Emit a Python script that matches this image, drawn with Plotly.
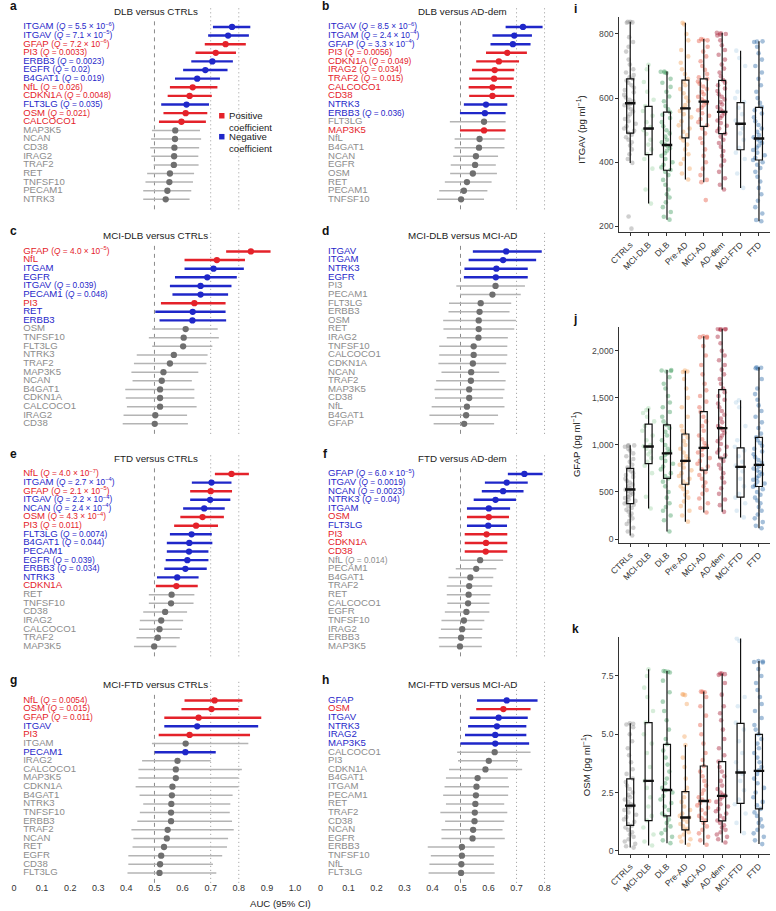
import plotly.graph_objects as go

W, H = 776, 911

# ------------------------------------------------------------------ data
# forest panels: genes, AUC, lower CI, upper CI, Q-value text, sign (r = positive, b = negative, g = n.s.)
a_title = "DLB versus CTRLs"
a_genes = ["ITGAM","ITGAV","GFAP","PI3","ERBB3","EGFR","B4GAT1","NfL","CDKN1A","FLT3LG","OSM","CALCOCO1","MAP3K5","NCAN","CD38","IRAG2","TRAF2","RET","TNFSF10","PECAM1","NTRK3"]
a_auc = [0.776,0.762,0.753,0.718,0.706,0.681,0.652,0.636,0.625,0.614,0.611,0.596,0.574,0.573,0.571,0.570,0.569,0.555,0.553,0.546,0.540]
a_lo = [0.708,0.691,0.679,0.646,0.631,0.602,0.573,0.555,0.547,0.524,0.532,0.516,0.491,0.488,0.485,0.489,0.497,0.474,0.468,0.460,0.460]
a_hi = [0.841,0.836,0.825,0.790,0.779,0.760,0.733,0.724,0.704,0.694,0.688,0.683,0.662,0.666,0.659,0.656,0.657,0.641,0.637,0.631,0.625]
a_q = ["5.5e-6","7.1e-5","7.2e-6","0.0033","0.0023","0.02","0.019","0.026","0.0048","0.035","0.021","","","","","","","","","",""]
a_sign = "bbrrbbbrrbrr" + "g" * 9

b_title = "DLB versus AD-dem"
b_genes = ["ITGAV","ITGAM","GFAP","PI3","CDKN1A","IRAG2","TRAF2","CALCOCO1","CD38","NTRK3","ERBB3","FLT3LG","MAP3K5","NfL","B4GAT1","NCAN","EGFR","OSM","RET","PECAM1","TNFSF10"]
b_auc = [0.723,0.692,0.687,0.667,0.637,0.622,0.620,0.614,0.614,0.591,0.587,0.584,0.584,0.568,0.566,0.555,0.552,0.544,0.523,0.512,0.502]
b_lo = [0.661,0.614,0.607,0.591,0.556,0.541,0.531,0.529,0.531,0.512,0.498,0.462,0.498,0.479,0.479,0.474,0.465,0.463,0.444,0.424,0.416]
b_hi = [0.793,0.755,0.750,0.737,0.709,0.692,0.690,0.683,0.692,0.667,0.661,0.661,0.661,0.657,0.657,0.634,0.626,0.630,0.611,0.596,0.584]
b_q = ["8.5e-6","2.4e-4","3.3e-4","0.0056","0.049","0.034","0.015","","","","0.036","","","","","","","","","",""]
b_sign = "bbbrrrrrrbbgr" + "g" * 8

c_title = "MCI-DLB versus CTRLs"
c_genes = ["GFAP","NfL","ITGAM","EGFR","ITGAV","PECAM1","PI3","RET","ERBB3","OSM","TNFSF10","FLT3LG","NTRK3","TRAF2","MAP3K5","NCAN","B4GAT1","CDKN1A","CALCOCO1","IRAG2","CD38"]
c_auc = [0.843,0.722,0.710,0.688,0.664,0.664,0.642,0.636,0.635,0.611,0.604,0.602,0.569,0.555,0.532,0.526,0.520,0.520,0.520,0.503,0.501]
c_lo = [0.755,0.607,0.607,0.573,0.555,0.564,0.523,0.503,0.518,0.492,0.480,0.492,0.437,0.427,0.418,0.422,0.396,0.398,0.402,0.390,0.387]
c_hi = [0.913,0.822,0.818,0.793,0.774,0.762,0.753,0.753,0.755,0.725,0.729,0.706,0.689,0.685,0.656,0.633,0.642,0.642,0.650,0.616,0.619]
c_q = ["4.0e-5","","","","0.039","0.048","","","","","","","","","","","","","","",""]
c_sign = "rrbbbbrbb" + "g" * 12

d_title = "MCI-DLB versus MCI-AD"
d_genes = ["ITGAV","ITGAM","NTRK3","EGFR","PI3","PECAM1","FLT3LG","ERBB3","OSM","RET","IRAG2","TNFSF10","CALCOCO1","CDKN1A","NCAN","TRAF2","MAP3K5","CD38","NfL","B4GAT1","GFAP"]
d_auc = [0.663,0.652,0.628,0.626,0.625,0.614,0.572,0.568,0.565,0.565,0.564,0.547,0.547,0.544,0.538,0.537,0.531,0.531,0.523,0.520,0.513]
d_lo = [0.544,0.529,0.514,0.512,0.485,0.498,0.459,0.457,0.438,0.439,0.451,0.424,0.424,0.421,0.432,0.413,0.407,0.409,0.397,0.389,0.404]
d_hi = [0.790,0.770,0.740,0.740,0.730,0.715,0.681,0.675,0.698,0.692,0.669,0.667,0.667,0.663,0.638,0.661,0.657,0.652,0.657,0.634,0.620]
d_q = [""] * 21
d_sign = "bbbb" + "g" * 17

e_title = "FTD versus CTRLs"
e_genes = ["NfL","ITGAM","GFAP","ITGAV","NCAN","OSM","PI3","FLT3LG","B4GAT1","PECAM1","EGFR","ERBB3","NTRK3","CDKN1A","RET","TNFSF10","CD38","IRAG2","CALCOCO1","TRAF2","MAP3K5"]
e_auc = [0.774,0.703,0.700,0.698,0.677,0.671,0.648,0.632,0.624,0.623,0.617,0.610,0.581,0.578,0.561,0.559,0.538,0.524,0.518,0.512,0.499]
e_lo = [0.715,0.633,0.627,0.627,0.602,0.592,0.570,0.555,0.544,0.544,0.540,0.535,0.509,0.505,0.480,0.480,0.460,0.448,0.445,0.436,0.427]
e_hi = [0.836,0.774,0.776,0.770,0.750,0.747,0.726,0.704,0.706,0.692,0.692,0.686,0.657,0.654,0.642,0.639,0.616,0.602,0.598,0.590,0.578]
e_q = ["4.0e-7","2.7e-4","2.1e-5","2.2e-4","2.4e-4","4.3e-4","0.011","0.0074","0.044","","0.039","0.034","","","","","","","","",""]
e_sign = "rbrbbrrbbbbbbr" + "g" * 7

f_title = "FTD versus AD-dem"
f_genes = ["GFAP","ITGAV","NCAN","NTRK3","ITGAM","OSM","FLT3LG","PI3","CDKN1A","CD38","NfL","PECAM1","B4GAT1","TRAF2","RET","CALCOCO1","EGFR","TNFSF10","IRAG2","ERBB3","MAP3K5"]
f_auc = [0.728,0.665,0.652,0.625,0.601,0.601,0.599,0.593,0.591,0.590,0.570,0.556,0.535,0.531,0.529,0.527,0.521,0.512,0.506,0.502,0.498]
f_lo = [0.669,0.587,0.576,0.547,0.523,0.523,0.523,0.515,0.515,0.515,0.498,0.483,0.457,0.451,0.451,0.453,0.444,0.432,0.430,0.422,0.424]
f_hi = [0.793,0.740,0.725,0.698,0.677,0.673,0.666,0.667,0.667,0.667,0.652,0.628,0.617,0.613,0.607,0.603,0.603,0.585,0.578,0.576,0.576]
f_q = ["6.0e-5","0.0019","0.0023","0.04","","","","","","","0.014","","","","","","","","","",""]
f_sign = "bbbbbrbrrr" + "g" * 11

g_title = "MCI-FTD versus CTRLs"
g_genes = ["NfL","OSM","GFAP","ITGAV","PI3","ITGAM","PECAM1","IRAG2","CALCOCO1","MAP3K5","CDKN1A","B4GAT1","NTRK3","TNFSF10","ERBB3","TRAF2","NCAN","RET","EGFR","CD38","FLT3LG"]
g_auc = [0.714,0.703,0.657,0.652,0.625,0.611,0.610,0.582,0.576,0.576,0.564,0.562,0.560,0.559,0.559,0.547,0.544,0.534,0.524,0.520,0.518]
g_lo = [0.607,0.596,0.535,0.535,0.515,0.491,0.501,0.456,0.443,0.443,0.433,0.447,0.460,0.448,0.439,0.418,0.425,0.422,0.407,0.407,0.404]
g_hi = [0.813,0.799,0.880,0.869,0.840,0.834,0.718,0.700,0.811,0.799,0.799,0.778,0.770,0.768,0.776,0.782,0.762,0.758,0.741,0.708,0.720]
g_q = ["0.0054","0.015","0.011","","","","","","","","","","","","","","","","","",""]
g_sign = "rrrbrgb" + "g" * 14

h_title = "MCI-FTD versus MCI-AD"
h_genes = ["GFAP","OSM","ITGAV","NTRK3","IRAG2","MAP3K5","CALCOCO1","PI3","CDKN1A","B4GAT1","ITGAM","PECAM1","RET","TRAF2","CD38","NCAN","EGFR","ERBB3","TNFSF10","NfL","FLT3LG"]
h_auc = [0.665,0.653,0.636,0.630,0.624,0.624,0.622,0.601,0.589,0.561,0.557,0.555,0.553,0.551,0.550,0.545,0.543,0.505,0.505,0.503,0.502]
h_lo = [0.559,0.556,0.533,0.527,0.516,0.500,0.488,0.491,0.459,0.448,0.443,0.438,0.448,0.428,0.445,0.432,0.432,0.383,0.394,0.389,0.386]
h_hi = [0.775,0.750,0.740,0.735,0.735,0.745,0.750,0.705,0.720,0.669,0.673,0.670,0.656,0.667,0.656,0.650,0.658,0.622,0.619,0.619,0.622]
h_q = [""] * 21
h_sign = "brbbbb" + "g" * 15

auc_ticks = [0, 0.1, 0.2, 0.3, 0.4, 0.5, 0.6, 0.7, 0.8, 0.9, 1.0]
auc_ticktext = ["0", "0.1", "0.2", "0.3", "0.4", "0.5", "0.6", "0.7", "0.8", "0.9", "1.0"]

# box panels
groups = ["CTRLs", "MCI-DLB", "DLB", "Pre-AD", "MCI-AD", "AD-dem", "MCI-FTD", "FTD"]
group_colors = ["#8c8c8c", "#9fd3a8", "#3d9a5e", "#f4a25a", "#e5533f", "#a5172f", "#b3d1e6", "#2b69a8"]

itgav_q1 = [491, 424, 375, 476, 512, 489, 439, 407]
itgav_med = [584, 505, 454, 568, 589, 557, 520, 474]
itgav_q3 = [660, 574, 556, 656, 660, 655, 586, 571]
itgav_lo = [398, 271, 221, 346, 338, 315, 320, 216]
itgav_hi = [838, 704, 683, 835, 784, 804, 748, 777]
itgav_pts = [
    [838,838,836,835,790,775,760,745,720,705,690,680,672,665,660,655,648,640,632,625,618,610,602,595,590,586,582,578,572,565,558,550,542,535,528,520,512,505,498,492,486,478,470,462,452,440,425,410,398,231,193],
    [704,690,650,620,595,575,560,545,525,510,500,488,470,455,440,425,410,380,315,271],
    [683,682,680,678,660,648,635,620,605,590,575,565,556,548,538,525,512,500,490,480,470,462,455,450,444,436,428,420,410,400,392,384,376,370,360,345,330,315,300,290,275,260,245,230,221],
    [835,830,800,780,750,730,710,690,675,660,650,640,628,615,602,590,578,568,560,550,540,528,515,505,495,485,476,468,455,440,425,410,395,380,365,346],
    [784,782,780,778,760,745,730,715,700,688,675,665,660,652,645,636,628,620,612,604,596,590,585,578,570,562,553,545,535,525,515,505,490,475,460,440,420,400,380,360,345,338,282],
    [804,802,800,798,795,780,765,750,735,720,705,692,680,668,656,648,640,630,622,612,604,596,588,580,572,565,558,552,545,538,530,522,514,505,497,489,480,470,460,448,435,420,405,390,370,350,330,315],
    [748,725,700,620,600,588,570,550,530,520,505,490,470,445,430,410,365,320],
    [777,776,775,760,740,720,700,680,660,640,620,600,585,572,562,552,540,528,516,505,495,485,478,472,466,460,452,445,438,430,422,414,407,400,392,382,370,355,340,320,300,280,260,240,220,216],
]

gfap_q1 = [377, 802, 645, 582, 732, 861, 446, 558]
gfap_med = [527, 983, 910, 830, 969, 1179, 767, 788]
gfap_q3 = [750, 1220, 1213, 1116, 1353, 1587, 969, 1081]
gfap_lo = [38, 324, 80, 185, 282, 289, 230, 115]
gfap_hi = [997, 1388, 1796, 1789, 2155, 2235, 1475, 1824]
gfap_pts = [
    [997,995,990,980,960,940,910,880,850,820,790,760,740,720,700,680,660,640,620,600,580,560,540,525,510,495,480,465,450,435,420,405,390,378,365,350,330,310,290,270,250,220,190,160,120,80,38],
    [1388,1370,1340,1300,1250,1200,1150,1100,1050,1000,985,960,930,900,860,820,780,700,450,324],
    [1796,1790,1785,1780,1720,1650,1600,1520,1450,1400,1350,1300,1250,1213,1180,1140,1100,1050,1000,960,930,910,890,860,830,800,770,740,700,670,645,610,560,500,440,380,340,300,250,200,80],
    [1789,1780,1775,1700,1600,1500,1400,1300,1200,1150,1116,1080,1040,1000,960,920,880,850,830,810,790,760,730,700,670,640,610,585,560,530,500,470,440,400,350,300,250,185],
    [2155,2150,2145,2140,2050,1950,1850,1750,1650,1580,1520,1460,1400,1353,1300,1250,1200,1150,1100,1060,1020,990,970,950,920,890,860,830,800,770,740,710,680,640,600,560,520,480,430,380,330,282],
    [2235,2232,2230,2228,2225,2150,2080,2000,1950,1900,1850,1800,1750,1700,1650,1600,1560,1520,1480,1440,1400,1360,1320,1280,1240,1200,1180,1160,1130,1100,1070,1040,1010,980,950,920,890,860,830,790,750,700,650,600,540,480,420,360,289],
    [1475,1450,1400,1200,1050,980,940,880,820,780,760,720,640,560,480,440,380,300,230],
    [1824,1820,1815,1810,1700,1600,1540,1480,1420,1360,1300,1240,1180,1120,1081,1050,1020,990,960,930,900,870,840,810,790,770,750,730,710,690,670,650,630,610,590,570,555,530,500,470,440,410,380,340,300,260,220,180,140,115],
]

osm_q1 = [1.09, 1.30, 1.50, 0.90, 1.26, 1.29, 2.04, 1.80]
osm_med = [1.94, 3.00, 2.61, 1.43, 2.14, 2.36, 3.36, 3.43]
osm_q3 = [3.09, 5.50, 4.57, 2.54, 3.64, 3.83, 5.47, 5.00]
osm_lo = [0.14, 0.23, 0.33, 0.26, 0.26, 0.36, 0.76, 0.29]
osm_hi = [5.47, 7.79, 7.71, 4.54, 6.83, 7.61, 9.11, 8.14]
osm_pts = [
    [5.47,5.45,5.42,5.3,5.0,4.7,4.4,4.1,3.8,3.5,3.3,3.1,2.95,2.8,2.65,2.5,2.4,2.3,2.2,2.1,2.0,1.95,1.9,1.85,1.75,1.65,1.55,1.45,1.35,1.25,1.15,1.08,1.0,0.9,0.8,0.7,0.6,0.5,0.4,0.3,0.2,0.14],
    [7.79,7.5,7.0,6.6,6.0,5.5,5.0,4.6,4.2,3.6,3.0,2.7,2.3,1.9,1.5,1.3,1.0,0.7,0.4,0.23],
    [7.71,7.7,7.68,7.65,7.3,6.8,6.4,6.0,5.6,5.2,4.8,4.57,4.3,4.0,3.7,3.4,3.1,2.9,2.7,2.6,2.5,2.35,2.2,2.05,1.9,1.75,1.6,1.5,1.35,1.2,1.05,0.9,0.75,0.6,0.45,0.33],
    [6.72,6.7,6.68,6.3,4.9,4.54,4.0,3.6,3.1,2.7,2.54,2.3,2.1,1.9,1.75,1.6,1.5,1.43,1.35,1.25,1.15,1.05,0.95,0.9,0.8,0.7,0.6,0.5,0.4,0.26],
    [6.83,6.82,6.8,6.6,6.2,5.8,5.4,5.0,4.6,4.2,3.9,3.64,3.4,3.2,3.0,2.8,2.6,2.45,2.3,2.2,2.14,2.05,1.95,1.85,1.75,1.6,1.5,1.4,1.3,1.2,1.05,0.9,0.75,0.6,0.45,0.26],
    [7.61,7.6,7.58,7.55,7.2,6.7,6.2,5.9,5.6,5.2,4.8,4.4,4.1,3.83,3.6,3.4,3.2,3.0,2.8,2.65,2.5,2.4,2.36,2.3,2.2,2.1,2.0,1.9,1.8,1.7,1.6,1.5,1.4,1.3,1.2,1.1,1.0,0.9,0.8,0.7,0.6,0.5,0.36],
    [9.11,9.0,6.6,6.2,5.5,5.2,4.7,4.2,3.8,3.4,3.3,3.0,2.6,2.2,2.0,1.6,1.2,0.76],
    [8.14,8.12,8.1,8.08,7.8,7.5,7.2,6.9,6.6,6.3,6.0,5.7,5.4,5.2,5.0,4.8,4.6,4.4,4.2,4.0,3.8,3.6,3.45,3.3,3.1,2.9,2.7,2.5,2.3,2.1,1.95,1.8,1.65,1.5,1.35,1.2,1.05,0.9,0.75,0.6,0.45,0.29],
]

# ------------------------------------------------------------------ helpers
FONT = "Liberation Sans, Arial, sans-serif"
RED, BLUE = "#e4222a", "#1f27c9"
GREY_LINE, GREY_PT, GREY_TXT = "#b4b4b4", "#6f6f6f", "#8c8c8c"


def xp(px):
    return px / W


def yp(px):
    return 1 - px / H


def qtext(q):
    if not q:
        return ""
    if "e" in q:
        m, e = q.split("e")
        val = f"{m} × 10<sup>−{e.lstrip('-')}</sup>"
    else:
        val = q
    return f" <span style='font-size:8.3px'>(<i>Q</i> = {val})</span>"


fig = go.Figure()
layout = {}
shapes = []
annotations = []

forest = [
    ("a", a_title, a_genes, a_auc, a_lo, a_hi, a_q, a_sign),
    ("b", b_title, b_genes, b_auc, b_lo, b_hi, b_q, b_sign),
    ("c", c_title, c_genes, c_auc, c_lo, c_hi, c_q, c_sign),
    ("d", d_title, d_genes, d_auc, d_lo, d_hi, d_q, d_sign),
    ("e", e_title, e_genes, e_auc, e_lo, e_hi, e_q, e_sign),
    ("f", f_title, f_genes, f_auc, f_lo, f_hi, f_q, f_sign),
    ("g", g_title, g_genes, g_auc, g_lo, g_hi, g_q, g_sign),
    ("h", h_title, h_genes, h_auc, h_lo, h_hi, h_q, h_sign),
]
row0_px = [27, 252, 475, 702]
STEP = 8.64

for k, (letter, title, genes, auc, lo, hi, qs, sign) in enumerate(forest):
    n = k + 1
    col = k % 2
    row = k // 2
    r0 = row0_px[row]
    top = r0 - 9
    bot = r0 + 20 * STEP + 10
    xa = "x" if n == 1 else f"x{n}"
    ya = "y" if n == 1 else f"y{n}"
    xkey = "xaxis" if n == 1 else f"xaxis{n}"
    ykey = "yaxis" if n == 1 else f"yaxis{n}"
    if col == 0:
        xdom, xr, labx, titx, letx = [xp(4), xp(291)], [0, 1.0], 0.033, 149, 4
    else:
        xdom, xr, labx, titx, letx = [xp(317), xp(548)], [0, (548 - 317) / 286], 0.027, 462, 322
    last = row == 3
    xax = dict(domain=xdom, range=xr, anchor=ya, showgrid=False, zeroline=False, showline=False,
               ticks="", showticklabels=last, tickvals=auc_ticks, ticktext=auc_ticktext,
               tickfont=dict(size=9, color="#333"), fixedrange=True)
    if last:
        xax.update(anchor="free", position=yp(883))
    layout[xkey] = xax
    layout[ykey] = dict(domain=[yp(bot), yp(top)], range=[20 + 10 / STEP, -9 / STEP], anchor=xa,
                        showgrid=False, zeroline=False, showline=False, showticklabels=False, ticks="",
                        fixedrange=True)

    # reference lines
    shapes.append(dict(type="line", xref=xa, yref="paper", x0=0.5, x1=0.5, y0=yp(bot), y1=yp(top),
                       line=dict(color="#8a8a8a", width=1, dash="4px,4px"), layer="below"))
    for v in (0.7, 0.8):
        shapes.append(dict(type="line", xref=xa, yref="paper", x0=v, x1=v, y0=yp(bot), y1=yp(top - 12),
                           line=dict(color="#9a9a9a", width=1, dash="1px,3px"), layer="below"))

    rows = list(range(len(genes)))
    for code, lc, pc, lw in (("g", GREY_LINE, GREY_PT, 1.5), ("b", BLUE, BLUE, 2.4), ("r", RED, RED, 2.4)):
        idx = [i for i in rows if sign[i] == code]
        if not idx:
            continue
        lx, ly = [], []
        for i in idx:
            lx += [lo[i], hi[i], None]
            ly += [i, i, None]
        fig.add_trace(go.Scatter(x=lx, y=ly, mode="lines", line=dict(color=lc, width=lw),
                                 xaxis=xa, yaxis=ya, hoverinfo="skip"))
        fig.add_trace(go.Scatter(x=[auc[i] for i in idx], y=idx, mode="markers",
                                 marker=dict(color=pc, size=6.3, line=dict(width=0)),
                                 xaxis=xa, yaxis=ya, hoverinfo="skip"))
    tcol = {"r": RED, "b": BLUE, "g": GREY_TXT}
    fig.add_trace(go.Scatter(x=[labx] * len(genes), y=rows, mode="text",
                             text=[g + qtext(q) for g, q in zip(genes, qs)],
                             textposition="middle right",
                             textfont=dict(size=9.6, color=[tcol[s] for s in sign], family=FONT),
                             xaxis=xa, yaxis=ya, hoverinfo="skip"))
    annotations.append(dict(text=title, x=xp(titx), y=yp(r0 - 15.5), xref="paper", yref="paper",
                            showarrow=False, xanchor="center", yanchor="middle",
                            font=dict(size=9.8, color="#222")))
    annotations.append(dict(text=f"<b>{letter}</b>", x=xp(letx), y=yp(r0 - 20.5), xref="paper", yref="paper",
                            showarrow=False, xanchor="center", yanchor="middle",
                            font=dict(size=12, color="#111")))

# legend (panel a)
for yc, c, lab in ((116, RED, "Positive<br>coefficient"), (137, BLUE, "Negative<br>coefficient")):
    shapes.append(dict(type="rect", xref="paper", yref="paper", x0=xp(213.5), x1=xp(219),
                       y0=yp(yc + 2.75), y1=yp(yc - 2.75), fillcolor=c, line=dict(width=0)))
    annotations.append(dict(text=lab, x=xp(222), y=yp(yc + 5.5), xref="paper", yref="paper",
                            showarrow=False, xanchor="left", yanchor="middle", align="left",
                            font=dict(size=9.6, color="#222")))

annotations.append(dict(text="AUC (95% CI)", x=xp(276), y=yp(905), xref="paper", yref="paper",
                        showarrow=False, xanchor="center", yanchor="middle",
                        font=dict(size=9.6, color="#222")))

# ------------------------------------------------------------------ box panels
boxes = [
    ("i", "ITGAV (pg ml<sup>−1</sup>)", itgav_q1, itgav_med, itgav_q3, itgav_lo, itgav_hi, itgav_pts,
     (17, 233), [181, 853], [200, 400, 600, 800], ["200", "400", "600", "800"], 583, 130),
    ("j", "GFAP (pg ml<sup>−1</sup>)", gfap_q1, gfap_med, gfap_q3, gfap_lo, gfap_hi, gfap_pts,
     (328, 544), [-40, 2250], [0, 500, 1000, 1500, 2000], ["0", "500", "1,000", "1,500", "2,000"], 578, 445),
    ("k", "OSM (pg ml<sup>−1</sup>)", osm_q1, osm_med, osm_q3, osm_lo, osm_hi, osm_pts,
     (638, 856), [-0.14, 9.19], [0, 2.5, 5.0, 7.5], ["0", "2.5", "5.0", "7.5"], 588, 767),
]
for j, (letter, ytitle, q1, med, q3, lof, hif, pts, ypx, yr, tv, tt, ytx, yty) in enumerate(boxes):
    n = 9 + j
    xa, ya = f"x{n}", f"y{n}"
    layout[f"xaxis{n}"] = dict(domain=[xp(622), 1], type="category", categoryorder="array",
                               categoryarray=groups, range=[-0.6, 7.6], anchor=ya,
                               showline=True, linecolor="#333", linewidth=1, ticks="outside",
                               ticklen=3, tickcolor="#333", tickangle=-45, showgrid=False,
                               zeroline=False, tickfont=dict(size=8.6, color="#333"), fixedrange=True)
    layout[f"yaxis{n}"] = dict(domain=[yp(ypx[1]), yp(ypx[0])], range=yr, anchor=xa,
                               showline=True, linecolor="#333", linewidth=1, ticks="outside",
                               ticklen=3, tickcolor="#333", tickvals=tv, ticktext=tt, showgrid=False,
                               zeroline=False, tickfont=dict(size=8.6, color="#444"), fixedrange=True)
    for g, c, vals in zip(groups, group_colors, pts):
        fig.add_trace(go.Box(x=[g] * len(vals), y=vals, boxpoints="all", jitter=1, pointpos=0,
                             width=0.74, line=dict(width=0, color="rgba(0,0,0,0)"),
                             fillcolor="rgba(0,0,0,0)",
                             marker=dict(color=c, opacity=0.42, size=4.6, line=dict(width=0)),
                             xaxis=xa, yaxis=ya, hoverinfo="skip"))
    fig.add_trace(go.Box(x=groups, q1=q1, median=med, q3=q3, lowerfence=lof, upperfence=hif,
                         boxpoints=False, width=0.38, whiskerwidth=0, fillcolor="rgba(0,0,0,0)",
                         line=dict(color="#111", width=1.2), xaxis=xa, yaxis=ya, hoverinfo="skip"))
    fig.add_trace(go.Scatter(x=groups, y=med, mode="markers",
                             marker=dict(symbol="line-ew-open", size=7.5, color="#111",
                                         line=dict(width=2.4, color="#111")),
                             xaxis=xa, yaxis=ya, hoverinfo="skip"))
    annotations.append(dict(text=ytitle, x=xp(ytx), y=yp(yty), xref="paper", yref="paper",
                            showarrow=False, textangle=-90, xanchor="center", yanchor="middle",
                            font=dict(size=9.6, color="#222")))
    annotations.append(dict(text=f"<b>{letter}</b>", x=xp(577), y=yp(ypx[0] - 8), xref="paper", yref="paper",
                            showarrow=False, xanchor="center", yanchor="middle",
                            font=dict(size=12, color="#111")))

fig.update_layout(width=W, height=H, margin=dict(l=0, r=0, t=0, b=0), autosize=False,
                  paper_bgcolor="white", plot_bgcolor="white", showlegend=False,
                  font=dict(family=FONT, color="#222"), boxmode="overlay",
                  shapes=shapes, annotations=annotations, **layout)

fig.write_html("out.html")
